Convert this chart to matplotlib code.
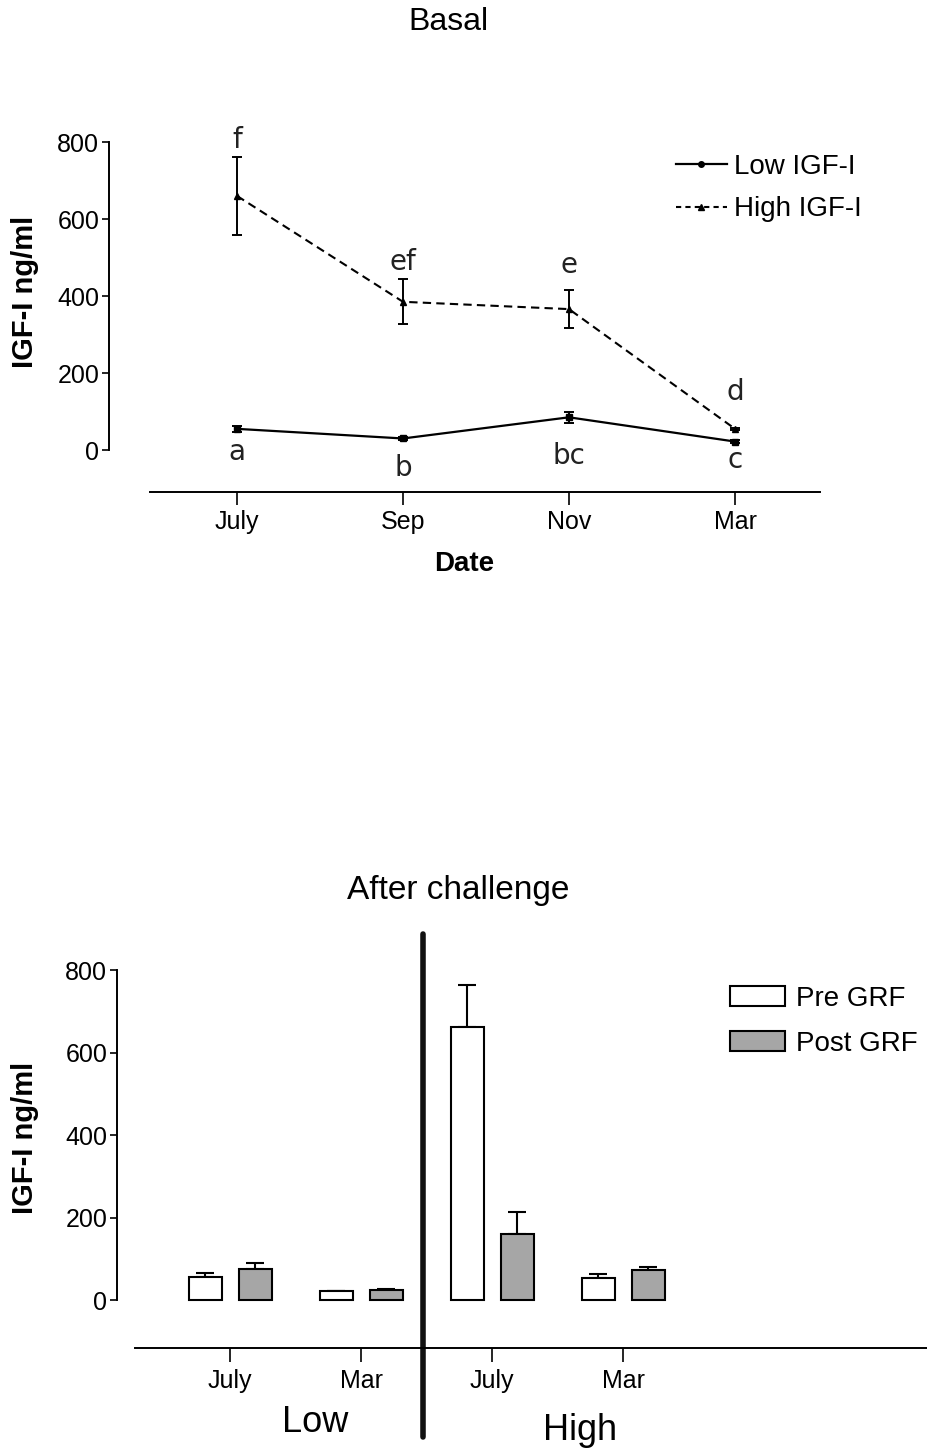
import matplotlib
matplotlib.use("Agg")
import matplotlib.pyplot as plt
from matplotlib.patches import Patch
from matplotlib.lines import Line2D
import numpy as np

plt.rcParams['font.family'] = ['Liberation Sans', 'DejaVu Sans']

# ---------------- data ----------------
dates = ["July", "Sep", "Nov", "Mar"]
low_mean = [55, 30, 85, 22]
low_err = [8, 3, 15, 3]
high_mean = [660, 385, 366, 55]
high_err = [102, 58, 49, 3]
high_letters = ["f", "ef", "e", "d"]
low_letters = ["a", "b", "bc", "c"]
high_letter_y = [805, 488, 480, 150]
low_letter_y = [-5, -47, -16, -26]

bar_labels = ["July", "Mar", "July", "Mar"]
groups = ["Low", "High"]
pre_mean = [56, 22, 662, 53]
pre_err = [9, 0, 102, 10]
post_mean = [75, 25, 160, 73]
post_err = [15, 3, 54, 8]

W, H = 927, 1451
fig = plt.figure(figsize=(W / 100, H / 100), dpi=100)


def axrect(left, right, top, bottom):
    return [left / W, (H - bottom) / H, (right - left) / W, (bottom - top) / H]


TICK_FS = 18

# ---------------- top chart ----------------
ax1 = fig.add_axes(axrect(109, 820, 142, 492))
x = np.arange(len(dates))
ax1.errorbar(x, low_mean, yerr=low_err, color='black', lw=1.6, marker='s', ms=4,
             capsize=3.5, elinewidth=1.4, capthick=1.4, label='Low IGF-I')
ax1.errorbar(x, high_mean, yerr=high_err, color='black', lw=1.5, ls=(0, (4, 2.5)), marker='^', ms=5,
             capsize=3.5, elinewidth=1.4, capthick=1.4, label='High IGF-I')
for xi, t, yy in zip(x, high_letters, high_letter_y):
    ax1.text(xi, yy, t, ha='center', va='center', fontsize=20, family='DejaVu Sans', color='#222222')
for xi, t, yy in zip(x, low_letters, low_letter_y):
    ax1.text(xi, yy, t, ha='center', va='center', fontsize=20, family='DejaVu Sans', color='#222222')

px_x = 166.0
ax1.set_xlim(-(237 - 109) / px_x, (820 - 237) / px_x)
ax1.set_ylim(-109, 800)
ax1.spines['top'].set_visible(False)
ax1.spines['right'].set_visible(False)
ax1.spines['left'].set_bounds(0, 800)
ax1.spines['bottom'].set_bounds(-(237 - 150) / px_x, (820 - 237) / px_x)
for s in ax1.spines.values():
    s.set_linewidth(1.4)
ax1.set_xticks(x)
ax1.set_xticklabels(dates, fontsize=TICK_FS)
ax1.set_yticks([0, 200, 400, 600, 800])
ax1.tick_params(axis='y', labelsize=TICK_FS, length=5, width=1.2, direction='out', pad=2)
ax1.tick_params(axis='x', length=9, width=1.2, direction='out', pad=4)
ax1.set_xlabel("Date", fontsize=20, fontweight='bold', labelpad=12)
fig.text(25 / W, 1 - 292 / H, "IGF-I ng/ml", rotation=90, ha='center', va='center',
         fontsize=21, fontweight='bold')
fig.text(448 / W, 1 - 22 / H, "Basal", ha='center', va='center', fontsize=23)

h1 = [Line2D([], [], color='black', lw=1.6, marker='o', ms=4),
      Line2D([], [], color='black', lw=1.5, ls=(0, (2.5, 2)), marker='^', ms=5)]
ax1.legend(h1, ['Low IGF-I', 'High IGF-I'], loc='upper left',
           bbox_to_anchor=(670 / W, 1 - 148 / H), bbox_transform=fig.transFigure,
           frameon=False, fontsize=20, handlelength=1.85, handletextpad=0.25, labelspacing=0.6,
           borderpad=0.2, borderaxespad=0)

# ---------------- bottom chart ----------------
ax2 = fig.add_axes(axrect(117, 927, 970, 1348))
px_b = 131.0
xb = np.arange(len(bar_labels))
off = 25 / px_b
bw = 33 / px_b
ax2.bar(xb - off, pre_mean, bw, color='white', edgecolor='black', lw=1.5, label='Pre GRF', zorder=3)
ax2.bar(xb + off, post_mean, bw, color='#a6a6a6', edgecolor='black', lw=1.5, label='Post GRF', zorder=3)
ax2.errorbar(xb - off, pre_mean, yerr=[np.zeros(len(pre_err)), pre_err], fmt='none', ecolor='black',
             elinewidth=1.5, capsize=6.5, capthick=1.5, zorder=2)
ax2.errorbar(xb + off, post_mean, yerr=[np.zeros(len(post_err)), post_err], fmt='none', ecolor='black',
             elinewidth=1.5, capsize=6.5, capthick=1.5, zorder=2)

ax2.set_xlim(-(230 - 117) / px_b, (927 - 230) / px_b)
ax2.set_ylim(-116, 800)
ax2.spines['top'].set_visible(False)
ax2.spines['right'].set_visible(False)
ax2.spines['left'].set_bounds(0, 800)
ax2.spines['bottom'].set_bounds(-(230 - 135) / px_b, (927 - 230) / px_b)
for s in ax2.spines.values():
    s.set_linewidth(1.4)
ax2.set_xticks(xb)
ax2.set_xticklabels(bar_labels, fontsize=TICK_FS)
ax2.set_yticks([0, 200, 400, 600, 800])
ax2.tick_params(axis='y', labelsize=TICK_FS, length=5, width=1.2, direction='out', pad=2)
ax2.tick_params(axis='x', length=10, width=1.2, direction='out', pad=5)
fig.text(25 / W, 1 - 1138 / H, "IGF-I ng/ml", rotation=90, ha='center', va='center',
         fontsize=21, fontweight='bold')

# group separator
ax2.axvline(1.5 - 3.5 / px_b, ymin=-0.235, ymax=1.095, color='#111111', lw=4, clip_on=False,
            solid_capstyle='round')
ax2.text(0.65, -0.196, groups[0], transform=ax2.get_xaxis_transform(), ha='center', va='center',
         fontsize=26)
ax2.text(2.67, -0.217, groups[1], transform=ax2.get_xaxis_transform(), ha='center', va='center',
         fontsize=26)
fig.text(458 / W, 1 - 890 / H, "After challenge", ha='center', va='center', fontsize=24)

h2 = [Patch(facecolor='white', edgecolor='black', lw=1.5),
      Patch(facecolor='#a6a6a6', edgecolor='black', lw=1.5)]
ax2.legend(h2, ['Pre GRF', 'Post GRF'], loc='upper left',
           bbox_to_anchor=(724 / W, 1 - 980 / H), bbox_transform=fig.transFigure,
           frameon=False, fontsize=20, handlelength=2.0, handleheight=0.75,
           handletextpad=0.4, labelspacing=0.7, borderpad=0.2, borderaxespad=0)

fig.savefig("out.png", dpi=100)
